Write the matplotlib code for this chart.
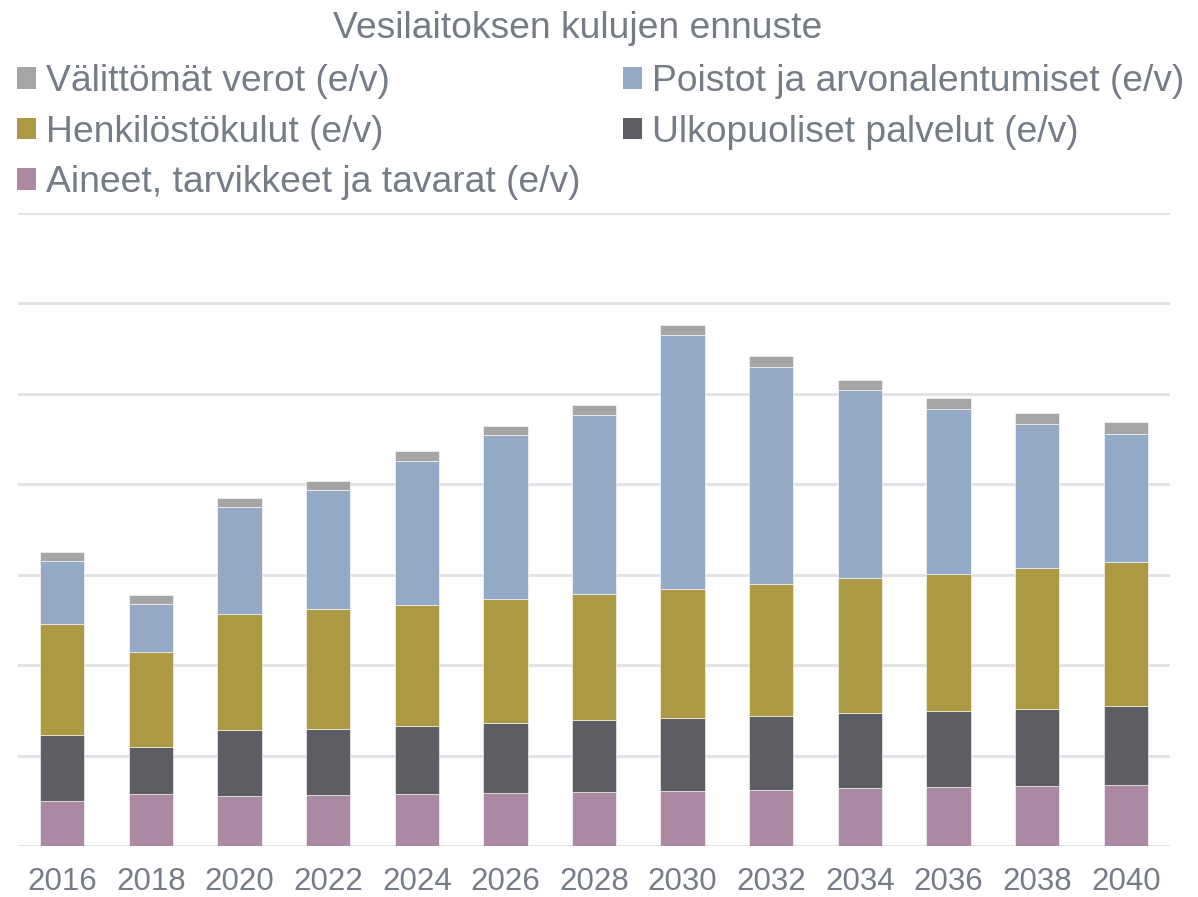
import matplotlib
matplotlib.use("Agg")
import matplotlib.pyplot as plt
from matplotlib.patches import Patch
import numpy as np

plt.rcParams['font.family'] = ['Liberation Sans', 'DejaVu Sans']

years = ["2016", "2018", "2020", "2022", "2024", "2026", "2028",
         "2030", "2032", "2034", "2036", "2038", "2040"]

aineet = [0.50, 0.58, 0.55, 0.56, 0.58, 0.59, 0.60, 0.61, 0.62, 0.64, 0.65, 0.66, 0.68]
ulkopuoliset = [0.73, 0.51, 0.73, 0.73, 0.75, 0.77, 0.79, 0.80, 0.82, 0.83, 0.84, 0.86, 0.87]
henkilosto = [1.22, 1.06, 1.29, 1.33, 1.34, 1.37, 1.40, 1.43, 1.46, 1.49, 1.52, 1.55, 1.59]
poistot = [0.70, 0.53, 1.18, 1.32, 1.59, 1.81, 1.98, 2.81, 2.40, 2.08, 1.82, 1.60, 1.42]
verot = [0.10, 0.10, 0.10, 0.10, 0.11, 0.11, 0.11, 0.11, 0.12, 0.11, 0.12, 0.12, 0.13]

series = [
    ("Aineet, tarvikkeet ja tavarat (e/v)", aineet, "#AB89A4"),
    ("Ulkopuoliset palvelut (e/v)", ulkopuoliset, "#5C5E64"),
    ("Henkilöstökulut (e/v)", henkilosto, "#AD9843"),
    ("Poistot ja arvonalentumiset (e/v)", poistot, "#94A9C6"),
    ("Välittömät verot (e/v)", verot, "#A5A5A5"),
]

text_color = "#757C86"
grid_color = "#E1E1E6"

W, H = 1198, 897
fig = plt.figure(figsize=(W / 100, H / 100), dpi=100)
ax = fig.add_axes([18 / W, 1 - 846 / H, (1170 - 18) / W, (846 - 213) / H])

x = np.arange(len(years))
bottom = np.zeros(len(years))
handles = {}
for label, vals, color in series:
    v = np.array(vals)
    ax.bar(x, v, bottom=bottom, width=0.5, color=color, edgecolor="white",
           linewidth=0.4, zorder=3)
    bottom += v
    handles[label] = Patch(facecolor=color, edgecolor="none")

ax.set_xlim(-0.5, len(years) - 0.5)
ax.set_ylim(0, 7)
ax.set_yticks(np.arange(0, 8, 1))
ax.yaxis.grid(True, color=grid_color, linewidth=2, zorder=0)
ax.tick_params(axis="y", left=False, labelleft=False)
ax.set_xticks(x)
ax.set_xticklabels(years, fontsize=22.5, color=text_color)
ax.tick_params(axis="x", length=0, pad=15)
for s in ax.spines.values():
    s.set_visible(False)

fig.text(578 / W, 1 - 29 / H, "Vesilaitoksen kulujen ennuste", ha="center",
         va="center", fontsize=26.8, color=text_color)

order = ["Välittömät verot (e/v)", "Henkilöstökulut (e/v)",
         "Aineet, tarvikkeet ja tavarat (e/v)",
         "Poistot ja arvonalentumiset (e/v)", "Ulkopuoliset palvelut (e/v)"]
leg = fig.legend([handles[k] for k in order], order, ncol=2,
                 loc="upper left", bbox_to_anchor=(17 / W, 1 - 64 / H),
                 frameon=False, fontsize=26.8, labelcolor=text_color,
                 handlelength=0.51, handleheight=0.51, handletextpad=0.26,
                 columnspacing=1.15, labelspacing=0.42, borderaxespad=0,
                 borderpad=0)

fig.savefig("out.png", dpi=100, facecolor="white")
